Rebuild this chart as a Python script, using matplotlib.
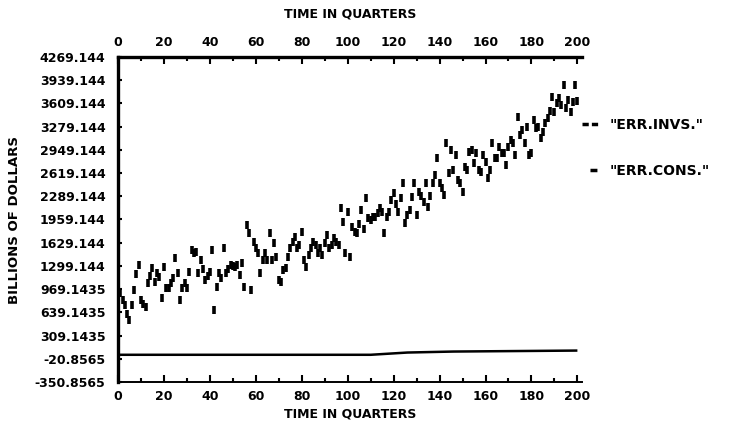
import numpy as np
import matplotlib.pyplot as plt
from matplotlib.lines import Line2D

# quarter index for the investment error series
quarters = np.arange(1, 201)

# error in investment (billions of dollars)
err_invs = [
    910, 820, 740, 610, 530, 740, 950, 1180, 1310, 820,
    760, 710, 1060, 1150, 1270, 1070, 1200, 1140, 840, 1280,
    980, 990, 1050, 1130, 1410, 1200, 810, 980, 1060, 990,
    1210, 1520, 1480, 1500, 1200, 1380, 1250, 1100, 1160, 1210,
    1520, 670, 1000, 1200, 1130, 1550, 1200, 1260, 1310, 1300,
    1280, 1310, 1170, 1340, 1000, 1880, 1770, 960, 1640, 1550,
    1480, 1200, 1380, 1480, 1380, 1770, 1380, 1620, 1430, 1100,
    1070, 1240, 1270, 1430, 1550, 1640, 1710, 1550, 1600, 1780,
    1380, 1280, 1450, 1550, 1640, 1600, 1480, 1560, 1450, 1620,
    1740, 1560, 1600, 1700, 1640, 1600, 2120, 1920, 1480, 2070,
    1430, 1850, 1780, 1770, 1900, 2090, 1830, 2260, 1980, 1950,
    1990, 1990, 2050, 2120, 2060, 1770, 2000, 2070, 2240, 2340,
    2180, 2070, 2270, 2480, 1910, 2020, 2100, 2280, 2480, 2020,
    2350, 2300, 2210, 2480, 2140, 2300, 2480, 2590, 2830, 2480,
    2400, 2310, 3050, 2620, 2950, 2660, 2880, 2520, 2480, 2350,
    2700, 2660, 2920, 2950, 2760, 2900, 2660, 2630, 2880, 2780,
    2550, 2660, 3050, 2830, 2830, 2990, 2900, 2900, 2730, 2990,
    3090, 3050, 2880, 3420, 3160, 3230, 3050, 3270, 2880, 2900,
    3370, 3260, 3270, 3120, 3200, 3330, 3400, 3500, 3700, 3490,
    3620, 3690, 3590, 3870, 3540, 3660, 3490, 3630, 3870, 3640,
]

# error in consumption: nearly flat line just above the -20 tick
cons_q = [0, 110, 126, 146, 200]
err_cons = [36, 36, 68, 82, 96]

x_ticks = [0, 20, 40, 60, 80, 100, 120, 140, 160, 180, 200]
y_ticks = [-350.8565, -20.8565, 309.1435, 639.1435, 969.1435, 1299.144,
           1629.144, 1959.144, 2289.144, 2619.144, 2949.144, 3279.144,
           3609.144, 3939.144, 4269.144]
y_labels = ["-350.8565", "-20.8565", "309.1435", "639.1435", "969.1435",
            "1299.144", "1629.144", "1959.144", "2289.144", "2619.144",
            "2949.144", "3279.144", "3609.144", "3939.144", "4269.144"]

plt.rcParams['font.family'] = 'DejaVu Sans'
plt.rcParams['font.weight'] = 'bold'

fig = plt.figure(figsize=(7.39, 4.30), dpi=100)
ax = fig.add_axes([118 / 739, 1 - 382 / 430, 464 / 739, 325 / 430])

ax.plot(quarters, err_invs, linestyle='none', marker='|', color='black',
        markersize=6, markeredgewidth=2.6)
ax.plot(cons_q, err_cons, color='black', linewidth=1.8, solid_capstyle='butt')

ax.set_xlim(0, 202)
ax.set_ylim(y_ticks[0], y_ticks[-1])

# ticks on top and bottom, all pointing inwards
ax.set_xticks(x_ticks)
ax.set_xticklabels([str(t) for t in x_ticks])
ax.set_xticks(np.arange(10, 200, 20), minor=True)
ax.tick_params(axis='x', which='both', direction='in', top=True, labeltop=True,
               labelsize=9, pad=6, width=1.5)
ax.tick_params(axis='x', which='major', length=5)
ax.tick_params(axis='x', which='minor', length=3)
ax.set_yticks(y_ticks)
ax.set_yticklabels(y_labels)
ax.tick_params(axis='y', direction='in', length=3, width=1.5, labelsize=9, pad=9)

ax.spines['right'].set_visible(False)
ax.spines['left'].set_linewidth(2.4)
ax.spines['top'].set_linewidth(2.4)
ax.spines['bottom'].set_linewidth(1.4)

ax.set_xlabel('TIME IN QUARTERS', fontsize=9, fontweight='bold', labelpad=3)
ax.set_ylabel('BILLIONS OF DOLLARS', fontsize=9.5, fontweight='bold')
ax.yaxis.set_label_coords(-0.21, 0.5)
fig.text(350 / 739, 1 - 14 / 430, 'TIME IN QUARTERS', fontsize=9,
         fontweight='bold', ha='center', va='center')

# legend sits to the right of the plot; thick dashes like the printer output
handles = [
    Line2D([], [], color='black', linewidth=2.5, linestyle=(0, (1.8, 0.9))),
    Line2D([], [], color='black', linewidth=2.5, linestyle=(2.0, (2.0, 2.3))),
]
ax.legend(handles, ['"ERR.INVS."', '"ERR.CONS."'], loc='upper left',
          bbox_to_anchor=(582 / 739, 1 - 118 / 430), bbox_transform=fig.transFigure,
          frameon=False, fontsize=10, handlelength=1.15, handletextpad=0.86,
          labelspacing=2.29, borderpad=0, borderaxespad=0)

fig.savefig('out.png', dpi=100)
